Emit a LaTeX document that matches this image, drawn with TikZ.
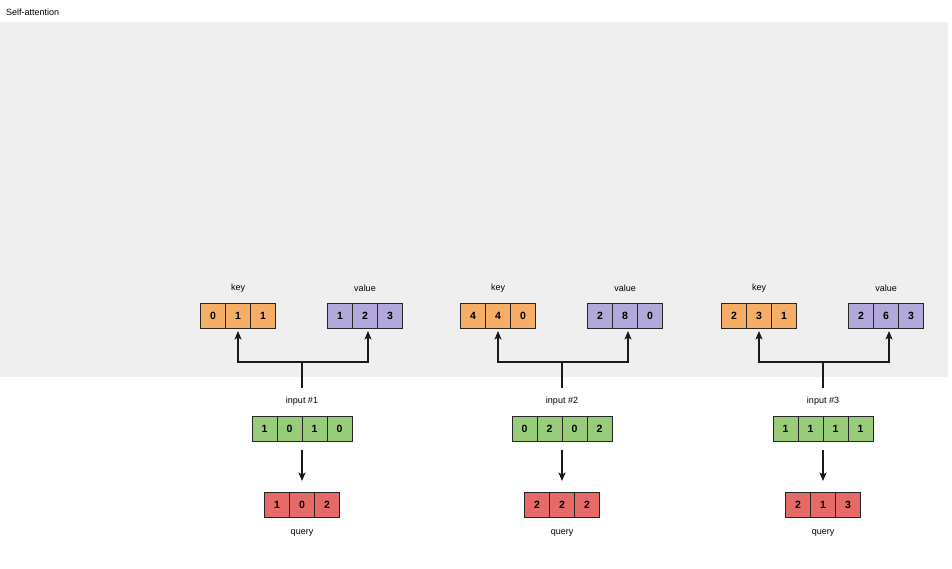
\documentclass[tikz,border=0pt]{standalone}
\usepackage{fontspec}
\setmainfont{Liberation Sans}
\usetikzlibrary{arrows.meta}
\definecolor{bgray}{HTML}{EFEFEF}
\definecolor{korange}{HTML}{F6AE66}
\definecolor{vpurple}{HTML}{B3A8DA}
\definecolor{igreen}{HTML}{97CC7A}
\definecolor{qred}{HTML}{E56A68}
\tikzset{
  cell/.style={draw=black!85, line width=1pt, minimum width=25pt, minimum height=25pt,
    inner sep=0pt, outer sep=0pt, text height=7.5pt, text depth=0pt,
    font=\fontsize{10.5}{12}\selectfont\bfseries},
  kcell/.style={cell, fill=korange},
  vcell/.style={cell, fill=vpurple},
  icell/.style={cell, fill=igreen},
  qcell/.style={cell, fill=qred},
  lbl/.style={font=\fontsize{9}{10}\selectfont, inner sep=1pt},
  conn/.style={line width=1.2pt, black!90},
  arr/.style={conn, -{Stealth[length=8.5pt,width=7pt,inset=2pt]}},
}
\begin{document}
\begin{tikzpicture}[x=1pt,y=-1pt]
\useasboundingbox (0,0) rectangle (952,568);
\fill[bgray] (0,22) rectangle (948,377);
\node[lbl, anchor=west] (title) at (5,12) {Self-attention};
\foreach \g/\cx/\ka/\kb/\kc/\va/\vb/\vc/\ia/\ib/\ic/\id/\qa/\qb/\qc in
  {1/302/0/1/1/1/2/3/1/0/1/0/1/0/2,
   2/562/4/4/0/2/8/0/0/2/0/2/2/2/2,
   3/823/2/3/1/2/6/3/1/1/1/1/2/1/3}{
  % key
  \node[kcell] (k\g b) at (\cx-64,315.5) {\kb};
  \node[kcell, anchor=east] (k\g a) at (k\g b.west) {\ka};
  \node[kcell, anchor=west] (k\g c) at (k\g b.east) {\kc};
  \node[lbl] (kl\g) at (\cx-64,288) {key};
  % value
  \node[vcell] (v\g b) at (\cx+63,315.5) {\vb};
  \node[vcell, anchor=east] (v\g a) at (v\g b.west) {\va};
  \node[vcell, anchor=west] (v\g c) at (v\g b.east) {\vc};
  \node[lbl] (vl\g) at (\cx+63,288) {value};
  % input
  \node[icell] (i\g b) at (\cx-12.5,428.5) {\ib};
  \node[icell, anchor=east] (i\g a) at (i\g b.west) {\ia};
  \node[icell, anchor=west] (i\g c) at (i\g b.east) {\ic};
  \node[icell, anchor=west] (i\g d) at (i\g c.east) {\id};
  \node[lbl] (il\g) at (\cx,401) {input \#\g};
  % query
  \node[qcell] (q\g b) at (\cx,504.5) {\qb};
  \node[qcell, anchor=east] (q\g a) at (q\g b.west) {\qa};
  \node[qcell, anchor=west] (q\g c) at (q\g b.east) {\qc};
  \node[lbl] (ql\g) at (\cx,533) {query};
  % connectors
  \coordinate (j\g) at (\cx,362);
  \coordinate (s\g) at (\cx,388);
  \draw[conn] (s\g) -- (j\g);
  \draw[arr] (j\g) -| ([yshift=-3pt]k\g b.south);
  \draw[arr] (j\g) -| ([xshift=3pt,yshift=-3pt]v\g b.south);
  \draw[arr] ([yshift=-9pt]i\g b.south east) -- ([yshift=11pt]q\g b.north);
}
\end{tikzpicture}
\end{document}
